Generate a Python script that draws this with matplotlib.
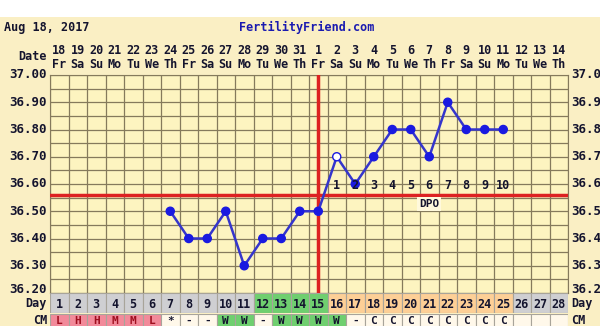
import matplotlib.pyplot as plt
from matplotlib.patches import Rectangle

# chart data
days = list(range(1, 29))
dates = list(range(18, 32)) + list(range(1, 15))
weekdays = ['Fr', 'Sa', 'Su', 'Mo', 'Tu', 'We', 'Th'] * 4
temp_days = list(range(7, 26))
temps = [36.5, 36.4, 36.4, 36.5, 36.3, 36.4, 36.4, 36.5, 36.5,
         36.7, 36.6, 36.7, 36.8, 36.8, 36.7, 36.9, 36.8, 36.8, 36.8]
open_day = 16
ovulation_day = 15
coverline = 36.56
dpo_days = list(range(16, 26))
dpo_labels = [str(i) for i in range(1, 11)]
yticks = [37.0, 36.9, 36.8, 36.7, 36.6, 36.5, 36.4, 36.3, 36.2]
day_phase = ['g'] * 11 + ['f'] * 4 + ['l'] * 10 + ['g'] * 3
cm_labels = ['L', 'H', 'H', 'M', 'M', 'L', '*', '-', '-', 'W', 'W', '-', 'W', 'W',
             'W', 'W', '-', 'C', 'C', 'C', 'C', 'C', 'C', 'C', 'C', '', '', '']
cm_kind = ['p'] * 6 + ['n', 'n', 'n', 'w', 'w', 'n', 'w', 'w', 'w', 'w'] + ['n'] * 12

BG = '#faefc4'
PLOT = '#fdf4c0'
GRID = '#857a5c'
TXT = '#14142e'
FONT = dict(family='DejaVu Sans Mono', fontweight='bold')

W, H = 600, 326
fig = plt.figure(figsize=(6, 3.26), dpi=100)
fig.patch.set_facecolor(BG)

def fx(px):
    return px / W

def fy(py):
    return 1 - py / H

# white strip on top
fig.patches.append(Rectangle((0, fy(17)), 1, 17 / H, transform=fig.transFigure,
                             facecolor='white', edgecolor='none', zorder=0))

L, R, T, B = 50, 568, 75, 293
ax = fig.add_axes([fx(L), fy(B), (R - L) / W, (B - T) / H])
ax.set_facecolor(PLOT)
ax.set_xlim(0.5, 28.5)
ax.set_ylim(36.2, 37.0)
for d in range(29):
    ax.axvline(d + 0.5, color=GRID, lw=0.9, zorder=1)
for k in range(17):
    ax.axhline(36.2 + k * 0.05, color=GRID, lw=0.9, zorder=1)
ax.set_xticks([])
ax.set_yticks([])
for s in ax.spines.values():
    s.set_color(GRID)

ax.axhline(coverline, color='#dd2222', lw=2.5, zorder=3)
ax.axvline(ovulation_day, color='#dd2222', lw=2.5, zorder=3)

ax.plot(temp_days, temps, color='#3535cc', lw=1.8, zorder=4)
fill = ['white' if d == open_day else '#1a1ae0' for d in temp_days]
ax.scatter(temp_days, temps, s=34, c=fill, edgecolors='#1a1ae0', linewidths=1.0, zorder=5)

for d, lab in zip(dpo_days, dpo_labels):
    ax.text(d, 36.593, lab, ha='center', va='center', fontsize=8.5, color=TXT, zorder=6, **FONT)
ax.text(21, 36.527, 'DPO', ha='center', va='center', fontsize=8, color=TXT, zorder=6,
        bbox=dict(facecolor='#fff9dc', edgecolor='none', pad=1.2), **FONT)

# axis labels left / right
for v in yticks:
    yp = T + (37.0 - v) / 0.8 * (B - T)
    if v == 36.2:
        yp -= 3
    fig.text(fx(47), fy(yp), f'{v:.2f}', ha='right', va='center', fontsize=9, color=TXT, **FONT)
    fig.text(fx(571), fy(yp), f'{v:.2f}', ha='left', va='center', fontsize=9, color=TXT, **FONT)

# header
fig.text(fx(4), fy(27), 'Aug 18, 2017', ha='left', va='center', fontsize=8.5, color=TXT, **FONT)
fig.text(fx(307), fy(27), 'FertilityFriend.com', ha='center', va='center', fontsize=8.5,
         color='#1a1ab0', **FONT)
fig.text(fx(47), fy(57), 'Date', ha='right', va='center', fontsize=8.5, color=TXT, **FONT)
colw = (R - L) / 28
for d, dt, wd in zip(days, dates, weekdays):
    xc = L + (d - 0.5) * colw
    fig.text(fx(xc), fy(50), str(dt), ha='center', va='center', fontsize=8.5, color=TXT, **FONT)
    fig.text(fx(xc), fy(64), wd, ha='center', va='center', fontsize=8.5, color=TXT, **FONT)

# day row
phase_col = {'g': '#cfcfd2', 'f': '#6fcf6f', 'l': '#fdcf96'}
axd = fig.add_axes([fx(L), fy(313), (R - L) / W, 20 / H])
axd.set_xlim(0.5, 28.5)
axd.set_ylim(0, 1)
axd.axis('off')
for d, ph in zip(days, day_phase):
    axd.add_patch(Rectangle((d - 0.5, 0), 1, 1, facecolor=phase_col[ph], edgecolor='#a8a49a', lw=0.8))
    axd.text(d, 0.45, str(d), ha='center', va='center', fontsize=8.5, color=TXT, **FONT)
fig.text(fx(47), fy(304), 'Day', ha='right', va='center', fontsize=8.5, color=TXT, **FONT)
fig.text(fx(571), fy(304), 'Day', ha='left', va='center', fontsize=8.5, color=TXT, **FONT)

# cervical mucus row
cm_col = {'p': '#f28a9a', 'w': '#6fcf6f', 'n': '#fff8ea'}
cm_txt = {'p': '#a01020', 'w': TXT, 'n': TXT}
axc = fig.add_axes([fx(L), fy(332), (R - L) / W, 18 / H])
axc.set_xlim(0.5, 28.5)
axc.set_ylim(0, 1)
axc.axis('off')
for d, lab, k in zip(days, cm_labels, cm_kind):
    axc.add_patch(Rectangle((d - 0.5, 0), 1, 1, facecolor=cm_col[k], edgecolor='#a8a49a', lw=0.8))
    axc.text(d, 0.62, lab, ha='center', va='center', fontsize=8, color=cm_txt[k], **FONT)
fig.text(fx(47), fy(321), 'CM', ha='right', va='center', fontsize=8.5, color=TXT, **FONT)
fig.text(fx(571), fy(321), 'CM', ha='left', va='center', fontsize=8.5, color=TXT, **FONT)

fig.savefig('out.png', dpi=100, facecolor=BG)
